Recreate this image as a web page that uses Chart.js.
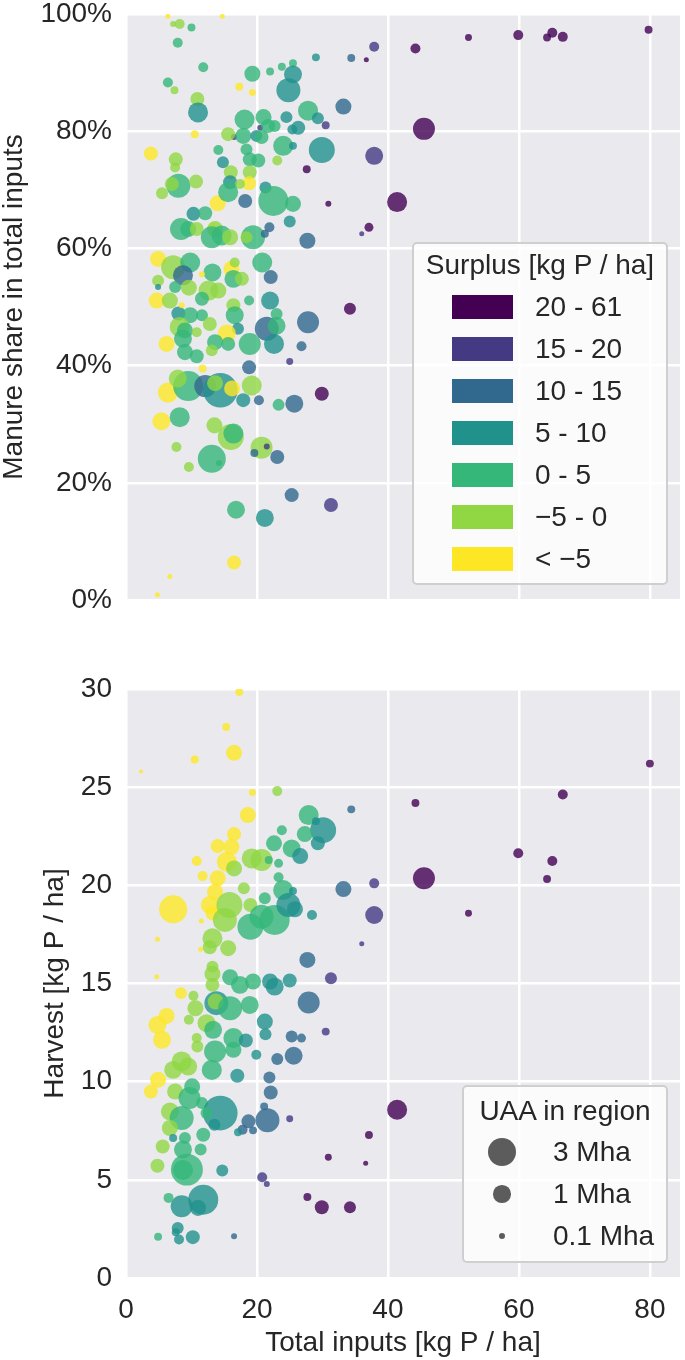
<!DOCTYPE html>
<html>
<head>
<meta charset="utf-8">
<script src="https://cdn.jsdelivr.net/npm/chart.js@4.4.1/dist/chart.umd.min.js"></script>
<style>
    body {
        margin: 0;
        width: 685px;
        height: 1360px;
        position: relative;
        overflow: hidden;
        background: #ffffff;
        font-family: 'Liberation Sans', Arial, sans-serif;
        color: #262626;
    }
    canvas { position: absolute; left: 0; }
    #shareChart { top: 0; }
    #harvestChart { top: 640px; }
    .legend {
        position: absolute;
        box-sizing: border-box;
        background: rgba(255, 255, 255, 0.8);
        border: 2px solid #cfcfcf;
        border-radius: 5px;
        font-size: 28px;
        line-height: 28px;
    }
    .legend div { position: absolute; white-space: nowrap; }
    .legend .title { left: 0; width: 100%; text-align: center; }
</style>
</head>
<body>
<canvas id="shareChart" width="685" height="640"></canvas>
<canvas id="harvestChart" width="685" height="720"></canvas>
<div class="legend" id="surplusLegend" style="left:412px; top:242px; width:256px; height:343px;"></div>
<div class="legend" id="uaaLegend" style="left:462px; top:1085px; width:206px; height:178px;"></div>
<script>
// surplus classes, darkest first
const surplusClasses = ['20 - 61', '15 - 20', '10 - 15', '5 - 10', '0 - 5', '\u22125 - 0', '< \u22125'];
const uaaLegendValues = [3, 1, 0.1];
const uaaLegendLabels = ['3 Mha', '1 Mha', '0.1 Mha'];
const shareTicks = [0, 20, 40, 60, 80, 100];

// top panel: total inputs [kg P/ha], manure share [%], UAA [Mha], surplus class index
const topInputs = [
    7.2, 8.2, 6.4, 14.7, 10.0, 7.9, 11.8, 6.4, 7.4, 10.9,
    11.0, 10.5, 3.8, 7.6, 7.5, 8.0, 7.0, 5.5, 10.7, 14.0,
    17.3, 19.3, 19.3, 22.0, 23.8, 25.5, 25.5, 24.8, 29.0, 18.1,
    21.0, 22.7, 24.5, 27.8, 29.3, 30.5, 26.3, 25.4, 20.5, 16.5,
    15.6, 17.9, 19.9, 20.7, 21.7, 24.0, 25.5, 29.9, 27.6, 30.9,
    14.1, 14.8, 18.4, 18.9, 20.2, 23.1, 16.0, 18.9, 18.8, 15.9,
    17.4, 15.6, 18.2, 21.3, 22.5, 25.5, 10.3, 12.1, 8.4, 9.5,
    10.8, 13.2, 13.6, 13.1, 14.6, 15.9, 19.4, 18.4, 21.9, 21.2,
    25.0, 27.7, 4.9, 7.2, 9.8, 8.7, 4.9, 4.9, 4.7, 6.7,
    7.5, 9.6, 13.2, 11.6, 12.6, 14.1, 11.6, 16.1, 16.6, 16.4,
    17.7, 20.8, 22.1, 18.8, 22.0, 8.0, 8.5, 9.8, 11.6, 16.4,
    16.6, 23.0, 27.8, 21.5, 23.0, 17.1, 12.8, 8.2, 9.0, 10.8,
    15.4, 8.7, 6.2, 13.6, 18.9, 15.6, 22.6, 26.8, 9.0, 10.8,
    13.1, 18.8, 25.0, 11.7, 6.4, 9.5, 7.9, 12.1, 14.4, 13.6,
    16.2, 19.2, 17.9, 20.3, 23.3, 25.7, 29.9, 5.4, 8.2, 13.5,
    16.0, 16.4, 7.7, 20.7, 21.5, 19.6, 23.1, 13.1, 14.2, 9.6,
    25.3, 31.3, 16.8, 21.2, 16.5, 6.7, 4.8, 34.4, 36.7, 37.9,
    44.2, 52.3, 59.9, 64.3, 65.1, 66.7, 79.8, 33.2, 37.9, 45.5,
    41.4, 37.1, 36.0, 34.2
];
const topShare = [
    98.3, 98.3, 99.6, 99.6, 97.7, 95.1, 90.9, 88.3, 87.0, 85.5,
    83.2, 79.5, 76.2, 75.2, 73.8, 70.7, 71.0, 69.4, 71.4, 67.7,
    87.6, 86.6, 89.8, 90.2, 91.0, 91.6, 89.7, 87.0, 92.6, 82.0,
    82.4, 80.9, 82.4, 83.5, 82.2, 81.0, 80.6, 80.3, 80.6, 79.0,
    79.5, 79.2, 79.2, 79.0, 80.9, 77.5, 77.5, 76.8, 73.5, 67.6,
    76.8, 74.7, 76.9, 75.2, 75.0, 75.0, 73.0, 73.0, 71.1, 71.3,
    71.0, 69.6, 68.1, 70.4, 68.1, 67.6, 65.9, 66.0, 63.3, 63.3,
    63.3, 63.9, 63.3, 61.9, 62.2, 61.9, 61.9, 61.9, 63.6, 62.5,
    64.6, 61.3, 58.2, 56.8, 57.6, 55.4, 54.5, 53.4, 51.1, 51.1,
    53.4, 53.3, 55.9, 55.6, 52.8, 52.8, 51.4, 56.5, 57.6, 54.8,
    54.8, 57.6, 55.1, 51.1, 51.1, 48.9, 50.3, 48.6, 48.6, 50.3,
    48.6, 48.8, 47.4, 46.3, 46.8, 46.3, 47.1, 46.6, 46.0, 45.7,
    45.5, 44.6, 43.7, 44.0, 43.7, 43.7, 43.7, 43.3, 42.3, 41.6,
    42.6, 39.7, 40.7, 39.5, 35.4, 36.5, 37.8, 36.5, 35.8, 37.0,
    36.1, 36.6, 34.1, 34.1, 33.3, 33.5, 35.2, 30.5, 31.2, 29.8,
    27.8, 28.4, 26.1, 26.0, 26.2, 25.1, 24.4, 24.1, 23.4, 22.7,
    17.9, 16.2, 15.4, 14.0, 6.4, 4.0, 0.9, 92.5, 92.2, 94.4,
    94.1, 96.0, 96.4, 96.0, 96.8, 96.1, 97.3, 84.2, 75.8, 80.4,
    67.9, 63.6, 62.5, 49.7
];
const topUaa = [
    0.077, 0.26, 0.05, 0.05, 0.15, 0.26, 0.26, 0.26, 0.15, 0.58,
    1.36, 0.15, 0.58, 0.58, 0.26, 2.09, 0.58, 0.40, 0.58, 0.80,
    0.15, 0.11, 0.80, 0.15, 0.15, 0.15, 1.05, 2.09, 0.15, 1.36,
    0.80, 0.40, 0.40, 1.36, 0.40, 0.15, 0.58, 0.26, 0.077, 0.077,
    0.58, 0.80, 0.40, 0.58, 0.58, 1.36, 0.15, 2.53, 0.15, 0.077,
    0.26, 0.40, 0.40, 0.58, 0.58, 0.26, 0.58, 0.58, 0.58, 0.58,
    0.26, 1.36, 0.58, 0.40, 3.56, 0.80, 0.58, 0.58, 1.70, 0.80,
    0.58, 0.077, 0.80, 1.70, 1.36, 0.80, 2.09, 0.40, 0.26, 0.15,
    0.40, 0.80, 0.80, 2.09, 1.36, 1.36, 0.40, 0.077, 0.80, 0.80,
    0.40, 0.80, 1.05, 0.077, 1.36, 0.80, 0.58, 0.80, 0.26, 1.05,
    0.58, 1.36, 0.58, 0.26, 1.05, 0.58, 0.077, 0.80, 0.40, 0.58,
    1.05, 0.40, 1.70, 2.09, 1.05, 0.40, 0.58, 1.36, 0.80, 0.26,
    1.05, 1.05, 0.80, 0.80, 1.70, 0.58, 1.36, 0.26, 0.80, 0.58,
    0.40, 0.58, 0.11, 0.15, 1.36, 3.56, 1.05, 1.70, 5.0, 0.80,
    0.80, 1.36, 0.58, 0.26, 0.40, 1.05, 0.58, 1.05, 1.36, 0.80,
    2.53, 1.36, 0.26, 1.70, 0.077, 0.15, 0.58, 3.02, 0.077, 0.26,
    0.58, 0.58, 1.05, 1.05, 0.58, 0.05, 0.05, 0.15, 0.05, 0.26,
    0.26, 0.11, 0.26, 0.15, 0.26, 0.26, 0.15, 0.80, 1.05, 1.70,
    1.36, 0.20, 0.05, 0.40
];
const topClass = [
    5, 5, 6, 6, 4, 4, 4, 4, 5, 5,
    3, 6, 6, 5, 5, 4, 5, 5, 5, 6,
    6, 6, 4, 4, 4, 4, 3, 3, 3, 4,
    4, 4, 3, 4, 3, 1, 3, 3, 1, 1,
    5, 4, 3, 4, 4, 4, 3, 3, 0, 0,
    4, 3, 4, 4, 4, 5, 5, 5, 6, 3,
    5, 4, 2, 3, 4, 4, 3, 4, 4, 4,
    5, 6, 5, 4, 4, 5, 4, 5, 2, 2,
    3, 2, 6, 5, 4, 2, 5, 3, 6, 5,
    4, 5, 4, 6, 5, 5, 4, 6, 5, 4,
    5, 4, 2, 4, 3, 3, 6, 4, 4, 5,
    4, 4, 2, 2, 4, 3, 5, 5, 4, 5,
    6, 4, 6, 4, 4, 4, 3, 2, 4, 4,
    5, 2, 1, 6, 6, 4, 5, 2, 3, 5,
    6, 5, 3, 2, 4, 2, 0, 6, 4, 5,
    5, 4, 5, 5, 1, 2, 2, 4, 4, 5,
    2, 1, 4, 3, 6, 6, 6, 2, 0, 1,
    0, 0, 0, 0, 0, 0, 0, 2, 1, 0,
    0, 0, 1, 0
];

// bottom panel: total inputs [kg P/ha], harvest [kg P/ha], UAA [Mha], surplus class index
const botInputs = [
    17.3, 15.3, 16.5, 10.5, 2.3, 19.3, 23.1, 18.6, 27.9, 30.1,
    29.0, 23.8, 27.3, 29.3, 22.6, 25.3, 26.6, 16.5, 14.0, 16.1,
    19.2, 20.7, 15.4, 16.5, 10.8, 21.8, 23.3, 11.7, 14.0, 23.3,
    18.0, 24.0, 25.5, 21.2, 13.6, 7.2, 12.8, 13.2, 15.8, 15.1,
    19.0, 19.0, 20.7, 22.7, 24.8, 25.8, 28.4, 11.5, 4.8, 13.2,
    12.8, 15.6, 11.4, 27.7, 31.3, 4.7, 13.2, 13.2, 13.2, 15.9,
    17.4, 19.4, 22.0, 22.7, 25.0, 8.4, 10.3, 10.6, 6.2, 4.8,
    5.5, 9.6, 13.8, 13.7, 15.9, 18.9, 12.3, 13.3, 21.2, 21.3,
    27.9, 30.5, 25.3, 26.8, 16.4, 18.3, 10.8, 10.9, 13.6, 16.4,
    19.9, 23.1, 25.6, 8.5, 4.9, 3.8, 7.2, 9.5, 13.1, 17.0,
    21.9, 22.1, 7.5, 10.1, 6.7, 9.7, 11.6, 8.5, 6.7, 14.4,
    13.5, 12.3, 18.7, 21.6, 17.8, 17.1, 19.4, 21.1, 25.0, 5.6,
    7.2, 9.0, 11.8, 8.7, 11.4, 4.8, 9.3, 8.7, 14.7, 20.8,
    21.5, 27.7, 29.9, 30.9, 11.8, 8.5, 11.0, 6.5, 7.9, 7.6,
    8.1, 10.2, 4.9, 16.5, 34.4, 44.2, 66.7, 59.9, 65.1, 64.3,
    45.5, 37.9, 33.2, 37.9, 52.3, 36.0, 80.0, 37.1, 36.6, 34.2, 41.4
];
const botHarvest = [
    29.85, 28.07, 26.75, 26.41, 25.8, 24.73, 24.8, 23.58, 23.58, 22.81,
    23.27, 22.81, 22.61, 22.14, 22.14, 21.88, 21.49, 22.61, 22.0, 21.96,
    21.37, 21.29, 21.2, 20.86, 21.24, 21.29, 21.12, 20.47, 20.36, 20.41,
    19.85, 19.76, 19.71, 19.34, 19.67, 18.78, 19.0, 18.58, 19.0, 18.24,
    19.0, 17.89, 18.4, 18.24, 19.0, 18.78, 18.49, 18.18, 17.25, 17.3,
    16.85, 16.8, 16.74, 16.2, 15.27, 15.35, 15.86, 15.49, 14.93, 15.32,
    14.93, 15.1, 15.1, 14.84, 15.15, 14.51, 14.37, 13.74, 13.35, 12.89,
    12.13, 13.15, 14.0, 14.08, 13.74, 13.91, 12.98, 12.64, 13.06, 12.42,
    14.03, 12.55, 12.3, 12.22, 12.22, 12.1, 12.22, 11.79, 11.54, 11.62,
    11.37, 11.15, 11.32, 11.03, 10.1, 9.5, 10.6, 10.77, 10.6, 10.3,
    10.21, 9.45, 9.5, 9.76, 8.48, 9.17, 8.91, 8.15, 7.64, 8.4,
    7.81, 8.4, 7.98, 8.03, 7.55, 7.42, 7.52, 8.74, 8.11, 6.7,
    7.13, 7.13, 7.3, 6.54, 6.54, 5.72, 5.52, 5.5, 5.47, 5.13,
    4.79, 4.13, 3.6, 6.15, 3.99, 3.65, 3.57, 4.08, 2.55, 2.33,
    1.96, 2.08, 2.1, 2.13, 23.87, 24.19, 24.63, 21.63, 21.24, 20.32,
    20.36, 20.1, 19.81, 18.49, 18.58, 17.03, 26.2, 7.28, 5.85, 3.6, 8.57
];
const botUaa = [
    0.15, 0.15, 0.80, 0.15, 0.03, 0.11, 0.26, 0.80, 1.36, 2.53,
    0.15, 0.26, 0.80, 0.58, 0.80, 1.05, 0.80, 0.58, 0.58, 0.80,
    1.36, 1.70, 1.36, 0.80, 0.26, 0.15, 0.20, 0.26, 0.80, 0.26,
    0.40, 1.36, 0.15, 0.40, 0.80, 3.02, 1.05, 0.58, 2.53, 2.09,
    0.58, 2.53, 2.09, 3.56, 2.09, 0.80, 0.26, 0.05, 0.05, 1.36,
    0.58, 0.80, 0.05, 0.80, 0.40, 0.05, 0.40, 0.80, 0.58, 0.80,
    1.05, 0.80, 0.80, 1.05, 0.58, 0.40, 0.26, 0.80, 0.80, 1.05,
    1.05, 0.26, 2.09, 0.80, 2.09, 1.05, 1.05, 1.05, 0.80, 0.40,
    1.70, 0.15, 0.40, 0.20, 1.36, 0.58, 0.26, 0.40, 1.70, 0.80,
    0.26, 0.40, 1.05, 1.36, 0.80, 0.58, 1.05, 1.05, 1.36, 0.58,
    0.40, 0.58, 0.80, 0.80, 1.05, 1.70, 0.40, 2.09, 0.80, 5.0,
    0.40, 0.40, 0.58, 2.09, 0.26, 0.15, 0.15, 0.15, 0.11, 0.58,
    0.15, 0.40, 0.58, 1.05, 0.40, 0.58, 4.15, 1.36, 0.40, 0.26,
    0.077, 0.15, 0.58, 0.11, 3.56, 1.70, 0.80, 0.26, 0.40, 0.15,
    0.26, 0.58, 0.15, 0.077, 0.15, 0.15, 0.26, 0.26, 0.26, 0.15,
    1.70, 0.26, 0.80, 1.05, 0.11, 0.05, 0.15, 0.15, 0.05, 0.40, 1.36
];
const botClass = [
    6, 6, 6, 6, 6, 6, 5, 6, 4, 3,
    3, 4, 4, 3, 4, 4, 3, 6, 6, 6,
    5, 5, 6, 5, 6, 4, 4, 6, 6, 4,
    5, 4, 3, 4, 6, 6, 6, 6, 5, 5,
    5, 4, 4, 4, 3, 3, 3, 6, 6, 5,
    5, 5, 6, 2, 1, 6, 5, 5, 5, 4,
    4, 4, 3, 3, 3, 6, 5, 5, 6, 6,
    6, 5, 3, 5, 4, 4, 5, 4, 3, 3,
    2, 1, 2, 2, 4, 3, 5, 5, 4, 4,
    3, 2, 2, 5, 6, 6, 5, 5, 4, 3,
    2, 2, 5, 4, 5, 4, 4, 4, 5, 3,
    3, 4, 2, 2, 2, 3, 2, 2, 1, 5,
    3, 4, 4, 4, 4, 5, 4, 4, 3, 1,
    1, 0, 0, 0, 3, 3, 3, 4, 3, 3,
    3, 3, 4, 2, 2, 0, 0, 0, 0, 0,
    0, 1, 2, 1, 0, 1, 0, 0, 0, 0, 0
];

const X_MAX = 84.6;
const classColors = ['#440154', '#443983', '#31688e', '#21918c', '#35b779', '#90d743', '#fde725'];
const textColor = '#262626';
const fontFamily = "'Liberation Sans', Arial, sans-serif";

Chart.defaults.font.family = fontFamily;
Chart.defaults.font.size = 28;
Chart.defaults.color = textColor;

// bubbles may spill over the plot edge (they are clipped anyway), so no extra layout room for them
const BubbleCtl = Chart.BubbleController || Chart.registry.getController('bubble');
BubbleCtl.prototype.getMaxOverflow = function() { return 0; };

const withAlpha = (hex, a) => {
    const n = parseInt(hex.slice(1), 16);
    return `rgba(${(n >> 16) & 255}, ${(n >> 8) & 255}, ${n & 255}, ${a})`;
};
const radiusOf = (uaa) => 8.8 * Math.pow(uaa, 0.42);

const plotBackground = {
    id: 'plotBackground',
    beforeDraw(chart) {
        const { ctx, chartArea: a } = chart;
        ctx.save();
        ctx.fillStyle = '#EAEAEE';
        ctx.fillRect(a.left, a.top, a.right - a.left, a.bottom - a.top);
        ctx.restore();
    }
};

const gridStyle = { color: '#ffffff', lineWidth: 2.5, drawTicks: false };

// stop chart.js from reserving room for label overflow, so the plot area sits where padding says
const noOverflow = (s) => {
    s.paddingLeft = 0;
    s.paddingRight = 0;
    s.paddingTop = 0;
    s.paddingBottom = 0;
};

const makeChart = (id, xs, ys, uaa, cls, yOptions, xOptions, padding) => {
    const points = xs.map((x, i) => ({ x: x, y: ys[i], r: radiusOf(uaa[i]) }));
    const colors = cls.map(c => withAlpha(classColors[c], 0.8));
    return new Chart(document.getElementById(id), {
        type: 'bubble',
        data: {
            datasets: [{
                data: points,
                backgroundColor: colors,
                borderWidth: 0,
                hoverRadius: 0,
                clip: 0
            }]
        },
        options: {
            responsive: false,
            animation: false,
            events: [],
            layout: { padding: padding },
            plugins: {
                legend: { display: false },
                tooltip: { enabled: false }
            },
            scales: {
                x: Object.assign({
                    type: 'linear',
                    min: 0,
                    max: X_MAX,
                    grid: gridStyle,
                    border: { display: false }
                }, xOptions),
                y: Object.assign({
                    type: 'linear',
                    grid: gridStyle,
                    border: { display: false },
                    afterFit: (s) => { s.width = 126; noOverflow(s); }
                }, yOptions)
            }
        },
        plugins: [plotBackground]
    });
};

makeChart('shareChart', topInputs, topShare, topUaa, topClass, {
    min: 0,
    max: 100,
    afterBuildTicks: (s) => { s.ticks = shareTicks.map(v => ({ value: v })); },
    ticks: { padding: 14, callback: (v) => v + '%' },
    title: {
        display: true,
        text: 'Manure share in total inputs',
        font: { size: 28, lineHeight: 1 },
        padding: { top: 0, bottom: 0 }
    }
}, {
    ticks: { display: false, stepSize: 20, includeBounds: false },
    afterFit: (s) => { s.height = 0; noOverflow(s); }
}, { top: 14, right: 5, bottom: 40, left: 0 });

makeChart('harvestChart', botInputs, botHarvest, botUaa, botClass, {
    min: 0,
    max: 30,
    ticks: { padding: 14, stepSize: 5 },
    title: {
        display: true,
        text: 'Harvest [kg P / ha]',
        font: { size: 28, lineHeight: 1 },
        padding: { top: 41, bottom: 0 }
    }
}, {
    ticks: { stepSize: 20, includeBounds: false, padding: 15 },
    title: {
        display: true,
        text: 'Total inputs [kg P / ha]',
        font: { size: 28, lineHeight: 1.2 },
        padding: { top: 0, bottom: 0 }
    },
    afterFit: (s) => { s.height = 82; noOverflow(s); }
}, { top: 49, right: 5, bottom: 0, left: 0 });

// legends as html boxes over the plot areas
const surplusBox = document.getElementById('surplusLegend');
let html = '<div class="title" style="top:7px;">Surplus [kg P / ha]</div>';
surplusClasses.forEach((label, i) => {
    const cy = 63 + 42 * i;
    html += `<div style="left:38px; top:${cy - 12}px; width:61px; height:24px; background:${classColors[i]};"></div>`;
    html += `<div style="left:121px; top:${cy - 14}px;">${label.replace('<', '&lt;')}</div>`;
});
surplusBox.innerHTML = html;

const uaaBox = document.getElementById('uaaLegend');
html = '<div class="title" style="top:10px;">UAA in region</div>';
uaaLegendValues.forEach((v, i) => {
    const cy = 65 + 42 * i;
    const r = radiusOf(v);
    html += `<div style="left:${38 - r}px; top:${cy - r}px; width:${2 * r}px; height:${2 * r}px; border-radius:50%; background:rgba(64,64,64,0.85);"></div>`;
    html += `<div style="left:89px; top:${cy - 14}px;">${uaaLegendLabels[i]}</div>`;
});
uaaBox.innerHTML = html;
</script>
</body>
</html>
